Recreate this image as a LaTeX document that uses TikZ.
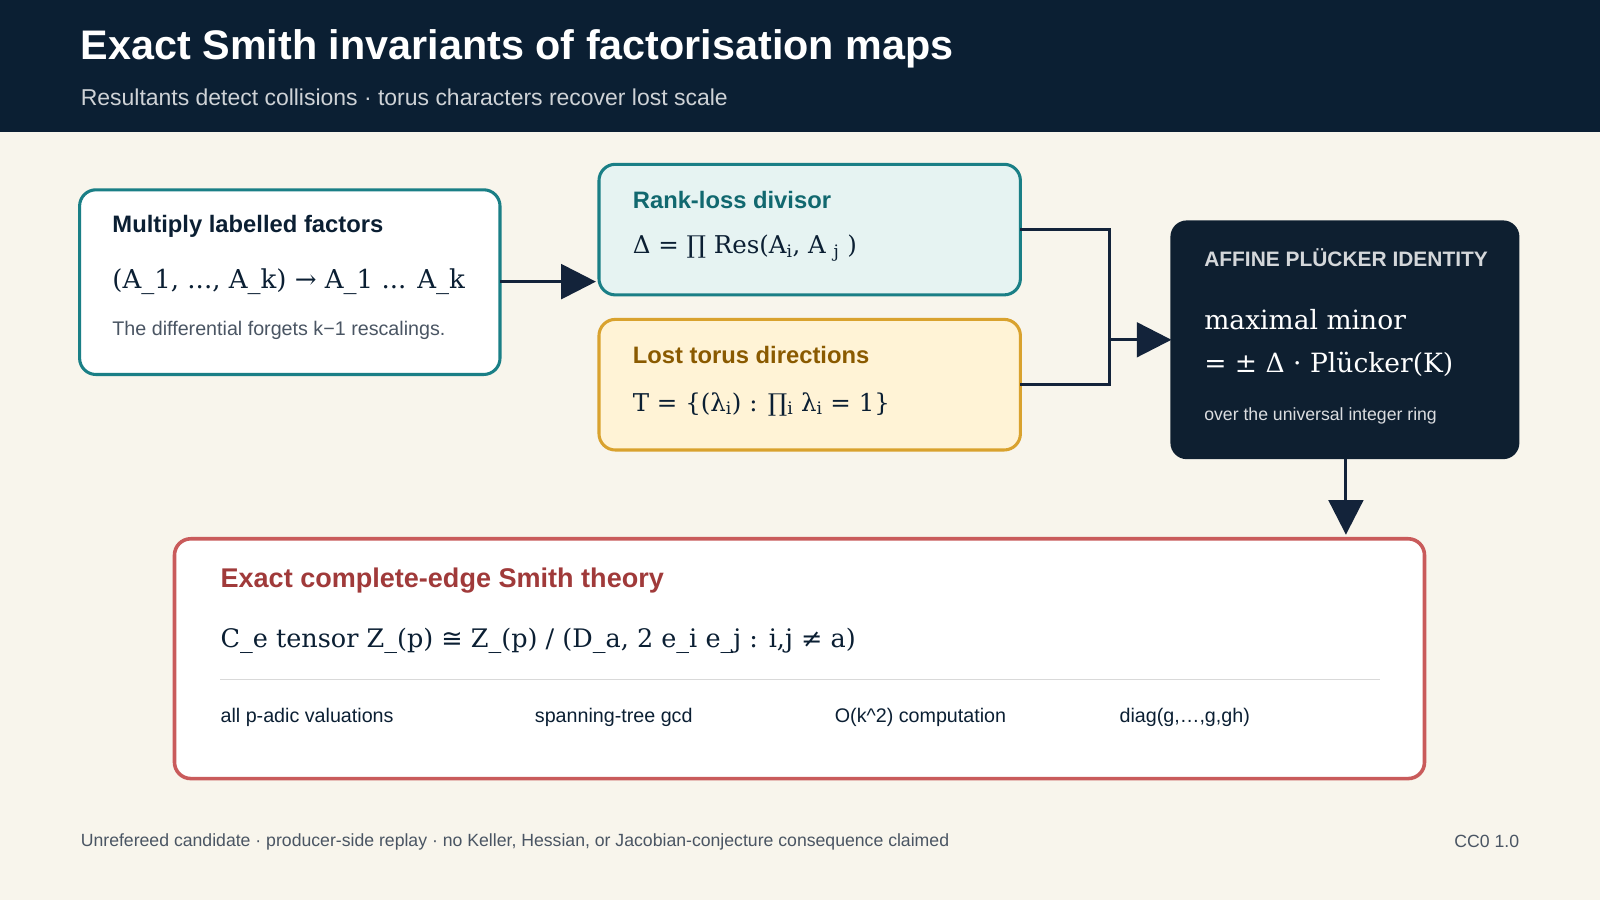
\documentclass[tikz,border=0pt]{standalone}
\usepackage{fontspec}
\setmainfont{Liberation Sans}
\newfontfamily\mathser{DejaVu Serif}
\newfontfamily\symsans{DejaVu Sans}
\usetikzlibrary{arrows.meta}
\definecolor{navy}{HTML}{0B1F33}
\definecolor{cream}{HTML}{F8F5EC}
\definecolor{teal}{HTML}{1A7F86}
\definecolor{tealt}{HTML}{11686F}
\definecolor{lteal}{HTML}{E6F3F2}
\definecolor{gold}{HTML}{D9A22E}
\definecolor{lgold}{HTML}{FFF3D6}
\definecolor{brown}{HTML}{8A5A00}
\definecolor{dbox}{HTML}{0E1F30}
\definecolor{redb}{HTML}{C95B5B}
\definecolor{redt}{HTML}{A03A3A}
\definecolor{gtext}{HTML}{4A5563}
\definecolor{inkc}{HTML}{13233A}
\tikzset{
  box/.style={draw, line width=3pt, rounded corners=16pt},
  lbl/.style={anchor=west, inner sep=0pt},
  ttl/.style={lbl, font=\fontsize{23.3}{27}\selectfont\bfseries},
  mth/.style={lbl, font=\fontsize{25.5}{29}\mathser},
  sml/.style={lbl, font=\fontsize{19.3}{23}\selectfont, text=gtext},
  conn/.style={draw=inkc, line width=3pt},
  arr/.style={conn, -{Triangle[length=34pt,width=34pt]}},
}
\begin{document}
\begin{tikzpicture}[x=1pt,y=-1pt]
\useasboundingbox (0,0) rectangle (1568,882);
\fill[cream] (0,0) rectangle (1568,882);
\fill[navy] (0,0) rectangle (1568,129);
\node[lbl, font=\fontsize{40.5}{46}\selectfont\bfseries, text=white] (title) at (79,48) {Exact Smith invariants of factorisation maps};
\node[lbl, font=\fontsize{22.5}{26}\selectfont, text=white!80!navy] (sub) at (79,95) {Resultants detect collisions · torus characters recover lost scale};

% box1
\draw[box, draw=teal, fill=white] (78,186) rectangle (490,367);
\coordinate (b1r) at (490,276);
\node[ttl, text=navy] at (110,222) {Multiply labelled factors};
\node[mth, text=navy] at (110,276) {(A\_1, ..., A\_k) → A\_1 ... A\_k};
\node[sml] at (110,324) {The differential forgets k−1 rescalings.};

% box2
\draw[box, draw=teal, fill=lteal] (587,161) rectangle (1000,289);
\coordinate (b2l) at (584,276);
\coordinate (b2r) at (1000,225);
\node[ttl, text=tealt] at (620,196) {Rank-loss divisor};
\node[mth, text=navy, font=\fontsize{24}{28}\mathser] at (620,243) {Δ = ∏ Res(A\textsubscript{i}, A \textsubscript{j} )};

% box3
\draw[box, draw=gold, fill=lgold] (587,313) rectangle (1000,441);
\coordinate (b3r) at (1000,377);
\node[ttl, text=brown] at (620,348) {Lost torus directions};
\node[mth, text=navy, font=\fontsize{24}{28}\mathser] at (620,396) {T = \{(λ\textsubscript{i}) : ∏\textsubscript{i} λ\textsubscript{i} = 1\}};

% box4
\fill[dbox, rounded corners=16pt] (1147,216) rectangle (1489,450);
\coordinate (b4l) at (1148,333);
\coordinate (b4b) at (1319,450);
\node[lbl, font=\fontsize{20.5}{24}\selectfont\bfseries, text=white!82!dbox] at (1180,253) {AFFINE PLÜCKER IDENTITY};
\node[lbl, font=\fontsize{26}{30}\mathser, text=white] at (1180,313) {maximal minor};
\node[lbl, font=\fontsize{26}{30}\mathser, text=white] at (1180,357) {= ± Δ · Plücker(K)};
\node[lbl, font=\fontsize{17.3}{21}\selectfont, text=white!85!dbox] at (1180,408) {over the universal integer ring};

% connectors
\coordinate (j) at (1087,333);
\draw[arr] (b1r) -- (b2l);
\draw[conn] (b2r) -| (j);
\draw[conn] (b3r) -| (j);
\draw[arr] (j) -- (b4l);
\coordinate (b5t) at (1319,524);
\draw[arr] (b4b) -- (b5t);

% box5
\draw[box, draw=redb, fill=white, line width=3.5pt] (171,528) rectangle (1396,763);
\node[lbl, font=\fontsize{26.5}{30}\selectfont\bfseries, text=redt] at (216,569) {Exact complete-edge Smith theory};
\node[mth, text=navy, font=\fontsize{25}{29}\mathser] at (216,628) {C\_e tensor Z\_(p) {\symsans ≅} Z\_(p) / (D\_a, 2 e\_i e\_j : i,j ≠ a)};
\draw[black!15, line width=1.2pt] (216,666) -- (1352,666);
\node[sml, text=navy] at (216,703) {all p-adic valuations};
\node[sml, text=navy] at (524,703) {spanning-tree gcd};
\node[sml, text=navy] at (818,703) {O(k\^{}2) computation};
\node[sml, text=navy] at (1097,703) {diag(g,…,g,gh)};

% footer
\node[lbl, font=\fontsize{17.3}{21}\selectfont, text=gtext] at (79,825) {Unrefereed candidate · producer-side replay · no Keller, Hessian, or Jacobian-conjecture consequence claimed};
\node[anchor=east, inner sep=0pt, font=\fontsize{17.3}{21}\selectfont, text=gtext] at (1489,825) {CC0 1.0};
\end{tikzpicture}
\end{document}
